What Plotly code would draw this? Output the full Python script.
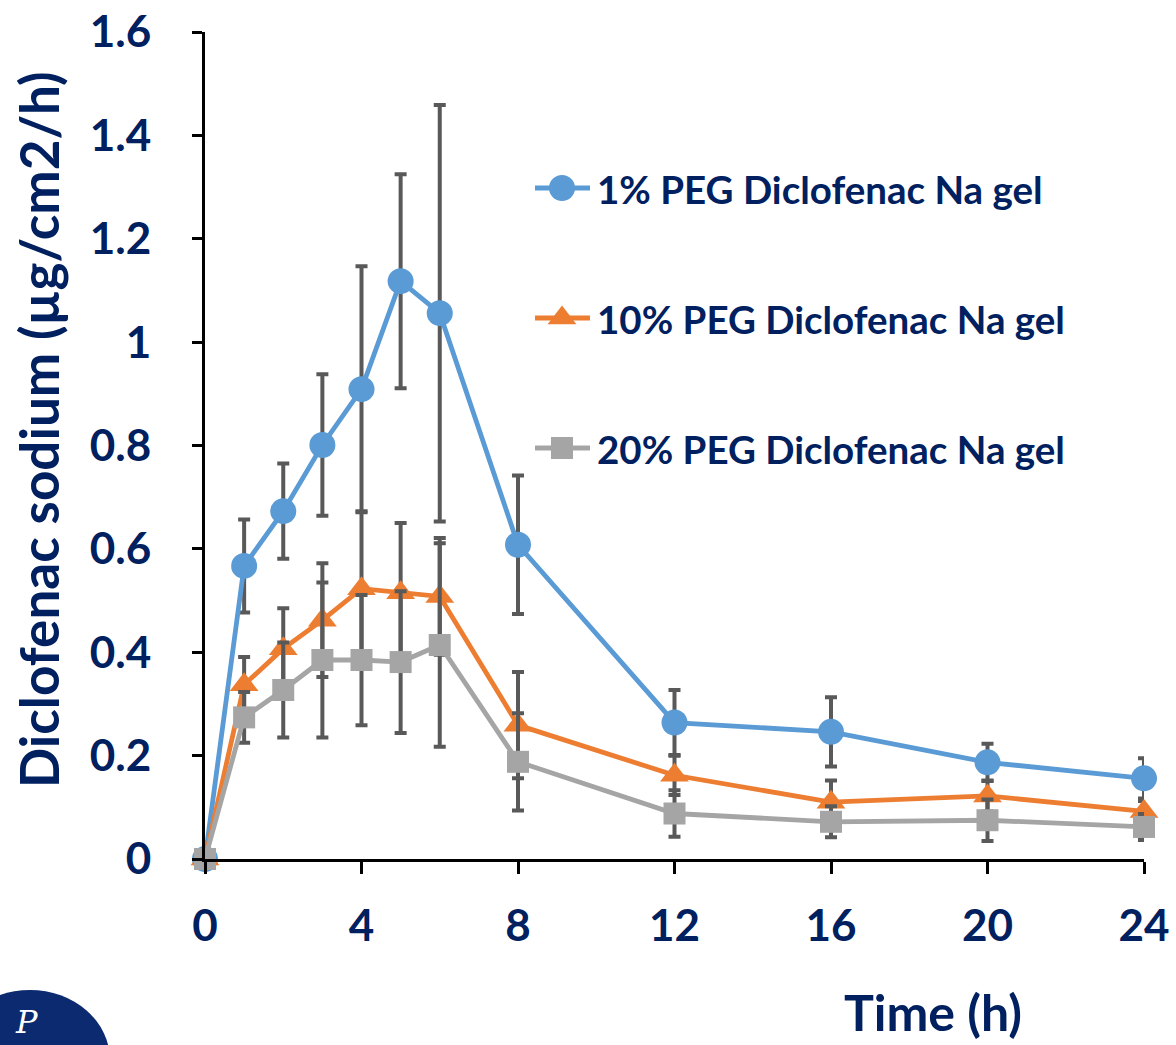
import plotly.graph_objects as go

# Sampling times (h)
time_h = [0, 1, 2, 3, 4, 5, 6, 8, 12, 16, 20, 24]

# Diclofenac sodium flux (µg/cm2/h), mean and SD for each gel
peg1_mean = [0, 0.567, 0.673, 0.801, 0.909, 1.118, 1.056, 0.608, 0.264, 0.246, 0.187, 0.156]
peg1_sd = [0, 0.090, 0.092, 0.137, 0.238, 0.207, 0.403, 0.134, 0.063, 0.067, 0.036, 0.039]

peg10_mean = [0, 0.337, 0.407, 0.462, 0.523, 0.515, 0.508, 0.259, 0.162, 0.110, 0.122, 0.092]
peg10_sd = [0, 0.054, 0.078, 0.110, 0.150, 0.135, 0.113, 0.103, 0.038, 0.042, 0.030, 0.020]

peg20_mean = [0, 0.274, 0.327, 0.385, 0.385, 0.381, 0.414, 0.188, 0.088, 0.072, 0.075, 0.062]
peg20_sd = [0, 0.049, 0.092, 0.150, 0.126, 0.137, 0.197, 0.094, 0.045, 0.030, 0.040, 0.025]

series_names = [
    "1% PEG Diclofenac Na gel",
    "10% PEG Diclofenac Na gel",
    "20% PEG Diclofenac Na gel",
]

x_ticks = [0, 4, 8, 12, 16, 20, 24]
y_ticks = [0, 0.2, 0.4, 0.6, 0.8, 1.0, 1.2, 1.4, 1.6]

NAVY = "#002060"
FONT = "Lato"
W, H = 1176, 1045
ML, MR, MT, MB = 205, 32, 32, 186
PW, PH = W - ML - MR, H - MT - MB


def px_to_paper(px, py):
    return (px - ML) / PW, (H - MB - py) / PH


styles = [
    dict(color="#5B9BD5", symbol="circle", size=26),
    dict(color="#ED7D31", symbol="triangle-up", size=25),
    dict(color="#A5A5A5", symbol="square", size=22),
]
means = [peg1_mean, peg10_mean, peg20_mean]
sds = [peg1_sd, peg10_sd, peg20_sd]

fig = go.Figure()
for name, m, s, st in zip(series_names, means, sds, styles):
    fig.add_trace(go.Scatter(
        x=time_h, y=m, name=name, mode="lines+markers", showlegend=False,
        line=dict(color=st["color"], width=4.8),
        marker=dict(color=st["color"], symbol=st["symbol"], size=st["size"],
                    line=dict(width=0)),
        error_y=dict(type="data", array=s, visible=True, color="#595959",
                     thickness=4, width=6),
        cliponaxis=False,
    ))

# Legend drawn on a pixel-scaled overlay axis so the swatches keep full marker size
legend_rows = [188, 318, 448]
for name, st, row in zip(series_names, styles, legend_rows):
    fig.add_trace(go.Scatter(
        x=[535, 562, 590], y=[row, row, row], xaxis="x2", yaxis="y2",
        mode="lines", line=dict(color=st["color"], width=4.8),
        showlegend=False, hoverinfo="skip", cliponaxis=False,
    ))
    fig.add_trace(go.Scatter(
        x=[562], y=[row], xaxis="x2", yaxis="y2", mode="markers",
        marker=dict(color=st["color"], symbol=st["symbol"], size=st["size"],
                    line=dict(width=0)),
        showlegend=False, hoverinfo="skip", cliponaxis=False,
    ))
    fig.add_annotation(x=595, y=row + 1, xref="x2", yref="y2", showarrow=False,
                       text=name, xanchor="left", yanchor="middle",
                       font=dict(family=FONT, size=38.5, color=NAVY, weight="bold"))

fig.update_layout(
    width=W, height=H,
    margin=dict(l=ML, r=MR, t=MT, b=MB),
    plot_bgcolor="white", paper_bgcolor="white",
    font=dict(family=FONT, color=NAVY),
    showlegend=False,
    xaxis=dict(
        range=[0, 24], tickvals=x_ticks, showgrid=False, zeroline=False,
        showline=True, linecolor="black", linewidth=3, automargin=False,
        ticks="outside", ticklen=12, tickwidth=3, tickcolor="black",
        tickfont=dict(family=FONT, size=44, color=NAVY, weight="bold"),
        ticklabelstandoff=14,
    ),
    yaxis=dict(
        range=[0, 1.6], tickvals=y_ticks, showgrid=False, zeroline=False,
        showline=True, linecolor="black", linewidth=3, automargin=False,
        ticks="outside", ticklen=10, tickwidth=3, tickcolor="black",
        tickfont=dict(family=FONT, size=44, color=NAVY, weight="bold"),
        ticklabelstandoff=32,
    ),
    xaxis2=dict(overlaying="x", range=[ML, W - MR], visible=False,
                automargin=False, fixedrange=True),
    yaxis2=dict(overlaying="y", range=[H - MB, MT], visible=False,
                automargin=False, fixedrange=True),
)

# Axis titles
tx, ty = px_to_paper(933, 1012)
fig.add_annotation(x=tx, y=ty, xref="paper", yref="paper", showarrow=False,
                   text="Time (h)", xanchor="center", yanchor="middle",
                   font=dict(family=FONT, size=50, color=NAVY, weight="bold"))
ax, ay = px_to_paper(38, 430)
fig.add_annotation(x=ax, y=ay, xref="paper", yref="paper", showarrow=False,
                   text="Diclofenac sodium (µg/cm2/h)", textangle=-90,
                   xanchor="center", yanchor="middle",
                   font=dict(family=FONT, size=53, color=NAVY, weight="bold"))

# Publisher badge in the lower-left corner
x0, y0 = px_to_paper(-50, 990)
x1, y1 = px_to_paper(110, 1130)
fig.add_shape(type="circle", xref="paper", yref="paper",
              x0=x0, x1=x1, y0=y1, y1=y0,
              fillcolor="#0B2A6F", line=dict(width=0), layer="above")
lx, ly = px_to_paper(26, 1022)
fig.add_annotation(x=lx, y=ly, xref="paper", yref="paper", showarrow=False,
                   text="<i>P</i>", xanchor="center", yanchor="middle",
                   font=dict(family="DejaVu Serif", size=32, color="white"))

fig.write_html("out.html")
